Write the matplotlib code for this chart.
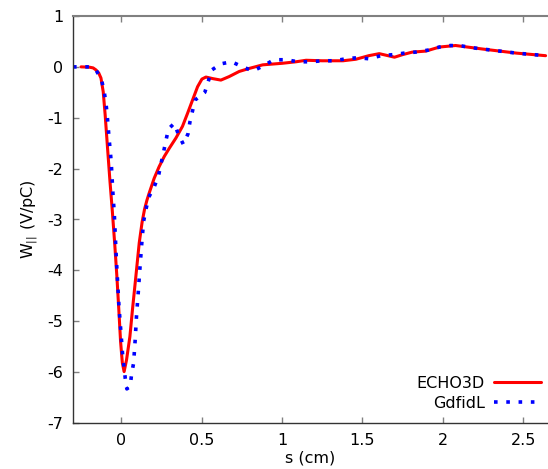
import matplotlib
matplotlib.use("Agg")
import matplotlib.pyplot as plt

# ECHO3D (red solid)
echo_s = [-0.25, -0.20, -0.175, -0.157, -0.14, -0.126, -0.112, -0.10, -0.085, -0.070,
          -0.055, -0.040, -0.027, -0.015, -0.004, 0.007, 0.018, 0.033, 0.054,
          0.070, 0.091, 0.112, 0.130, 0.145, 0.160, 0.174, 0.205, 0.236, 0.268,
          0.299, 0.34, 0.381, 0.413, 0.444, 0.475, 0.502, 0.527, 0.568, 0.62,
          0.672, 0.734, 0.797, 0.88, 1.0, 1.087, 1.15, 1.25, 1.38, 1.46,
          1.54, 1.605, 1.66, 1.70, 1.75, 1.81, 1.895, 1.98, 2.08, 2.25,
          2.46, 2.64]
echo_w = [0.0, -0.005, -0.02, -0.06, -0.12, -0.22, -0.49, -0.94, -1.60, -2.25,
          -2.85, -3.50, -4.12, -4.77, -5.40, -5.82, -5.99, -5.76, -5.30,
          -4.77, -4.12, -3.46, -3.05, -2.80, -2.62, -2.48, -2.19, -1.96, -1.76,
          -1.60, -1.40, -1.17, -0.91, -0.65, -0.39, -0.24, -0.20, -0.23, -0.26,
          -0.19, -0.09, -0.03, 0.04, 0.07, 0.10, 0.13, 0.12, 0.12, 0.15,
          0.22, 0.26, 0.22, 0.19, 0.24, 0.29, 0.31, 0.39, 0.42, 0.35,
          0.27, 0.22]

# GdfidL (blue dotted)
gdf_s = [-0.30, -0.20, -0.157, -0.122, -0.106, -0.095, -0.087, -0.081, -0.075, -0.068,
         -0.062, -0.058, -0.054, -0.050, -0.044, -0.030, -0.014, 0.008, 0.025, 0.035,
         0.056, 0.064, 0.077, 0.087, 0.095, 0.106, 0.116, 0.127, 0.139, 0.154,
         0.170, 0.205, 0.232, 0.247, 0.263, 0.278, 0.294, 0.33, 0.355, 0.386,
         0.415, 0.427, 0.444, 0.46, 0.52, 0.541, 0.564, 0.62, 0.687, 0.755,
         0.82, 0.89, 0.95, 1.025, 1.10, 1.18, 1.25, 1.325, 1.40, 1.47,
         1.54, 1.616, 1.69, 1.76, 1.83, 1.91, 1.98, 2.05, 2.12, 2.20,
         2.25, 2.46, 2.64]
gdf_w = [0.0, 0.0, -0.06, -0.26, -0.49, -0.71, -0.96, -1.19, -1.43, -1.66,
         -1.89, -2.12, -2.35, -2.59, -2.83, -3.80, -4.71, -5.63, -6.12, -6.33,
         -6.28, -6.05, -5.82, -5.36, -4.90, -4.43, -3.97, -3.50, -3.04, -2.80,
         -2.57, -2.36, -2.14, -1.91, -1.68, -1.45, -1.22, -1.11, -1.32, -1.52,
         -1.32, -1.09, -0.86, -0.65, -0.50, -0.29, -0.06, 0.06, 0.10, 0.0,
         -0.08, 0.03, 0.14, 0.14, 0.10, 0.10, 0.12, 0.12, 0.16, 0.18,
         0.16, 0.22, 0.24, 0.27, 0.29, 0.33, 0.39, 0.42, 0.41, 0.37,
         0.35, 0.27, 0.22]

x_ticks = [0, 0.5, 1, 1.5, 2, 2.5]
x_tick_labels = ["0", "0.5", "1", "1.5", "2", "2.5"]
y_ticks = [1, 0, -1, -2, -3, -4, -5, -6, -7]

plt.rcParams['font.family'] = ['DejaVu Sans']
fig = plt.figure(figsize=(5.48, 4.69), dpi=100)
ax = fig.add_axes([73/548, 46/469, 1 - 73/548, 407/469])

ax.plot(echo_s, echo_w, color='#ff0000', lw=2.2, label='ECHO3D',
        solid_capstyle='round', solid_joinstyle='round')
ax.plot(gdf_s, gdf_w, color='#0000ff', lw=2.6, linestyle=(0, (1, 2.4)),
        dash_capstyle='butt', label='GdfidL')

ax.set_xlim(-0.3, 2.655)
ax.set_ylim(-7, 1)
ax.set_xticks(x_ticks)
ax.set_xticklabels(x_tick_labels)
ax.set_yticks(y_ticks)
ax.set_yticklabels([str(v) for v in y_ticks])

ax.tick_params(direction='in', length=4, width=1, color='#808080',
               labelsize=11.5, top=True, right=False, pad=7)
for side in ['left', 'bottom']:
    ax.spines[side].set_color('#333333')
    ax.spines[side].set_linewidth(1.0)
ax.spines['top'].set_color('#808080')
ax.spines['top'].set_linewidth(1.5)
ax.spines['right'].set_visible(False)

ax.set_xlabel('s (cm)', fontsize=11.5, labelpad=2)
ax.set_ylabel(r'W$_{||}$ (V/pC)', fontsize=11.5, labelpad=5)

ax.legend(loc='lower right', bbox_to_anchor=(1.015, -0.005), frameon=False,
          markerfirst=False, fontsize=11.5, handlelength=2.9, labelspacing=0.3,
          handletextpad=0.6)

fig.savefig('out.png', dpi=100)
